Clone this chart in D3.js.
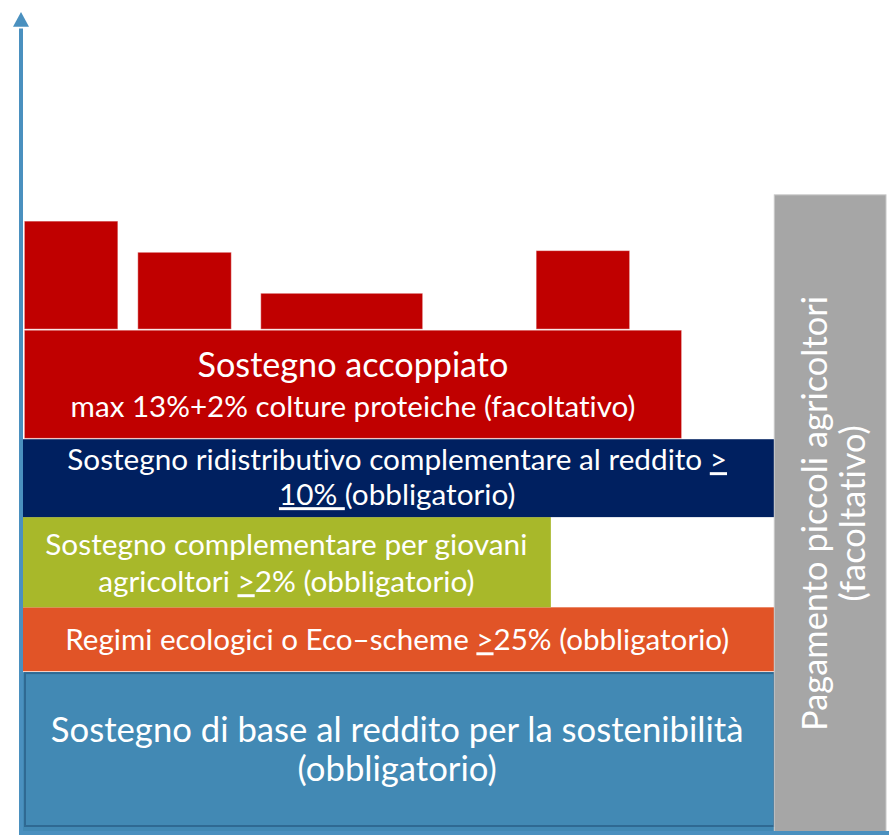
<!DOCTYPE html>
<html>
<head>
<meta charset="utf-8">
<script src="https://cdn.jsdelivr.net/npm/d3@7"></script>
<style>
  body { margin: 0; background: #fff; }
  svg { display: block; }
  text { font-family: Lato, "Open Sans", sans-serif; fill: #fff; white-space: pre;
         font-variant-ligatures: none; font-feature-settings: "liga" 0, "clig" 0; }
</style>
</head>
<body>
<svg id="chart" width="889" height="835"></svg>
<script>
// Scheme of the CAP direct payments, bottom layer first.
// x = share of the national envelope (0-100), y = stacking level (0-100)
var layerNames = ['base', 'eco', 'giovani', 'ridistributivo', 'accoppiato'];
var layerX0 = [0, 0, 0.2, 0, 0.5];
var layerX1 = [87.1, 87.1, 61.3, 87.1, 76.4];
var layerY0 = [0, 19.6, 27.4, 38.4, 48.0];
var layerY1 = [19.5, 27.4, 38.4, 47.9, 61.2];
// text between _ _ is underlined
var layerLabels = [
    ['Sostegno di base al reddito per la sostenibilità', '(obbligatorio)'],
    ['Regimi ecologici o Eco–scheme _>_25% (obbligatorio)'],
    ['Sostegno complementare per giovani', 'agricoltori _>_2% (obbligatorio)'],
    ['Sostegno ridistributivo complementare al reddito _>_', '_10% _(obbligatorio)'],
    ['Sostegno accoppiato', 'max 13%+2% colture proteiche (facoltativo)']
];

// coupled support sectors sitting on top of the red layer
var coupledX0 = [0.5, 13.6, 27.8, 59.6];
var coupledX1 = [11.3, 24.4, 46.5, 70.4];
var coupledTop = [74.5, 70.7, 65.7, 70.9];

// small farmers payment (vertical bar on the right)
var smallX0 = 87.1, smallX1 = 100, smallTop = 77.7;
var smallLabels = ['Pagamento piccoli agricoltori', '(facoltativo)'];

var svg = d3.select('#chart'),
    W = +svg.attr('width'),
    H = +svg.attr('height');

var x = d3.scaleLinear().domain([0, 100]).range([20, 886]),
    y = d3.scaleLinear().domain([0, 100]).range([832, 12]);

var color = d3.scaleOrdinal()
    .domain(layerNames.concat(['piccoli']))
    .range(['#4289b4', '#e15427', '#a8b82a', '#002060', '#c00000', '#a6a6a6']);

// text styling per layer: target line widths (null = same size as previous line),
// line height and baseline shift from the box centre
var textStyle = {
    base:           { fit: [693, null], lh: 39, dy: 9 },
    eco:            { fit: [664], lh: 0, dy: 11 },
    giovani:        { fit: [482, null], lh: 37, dy: 11.5 },
    ridistributivo: { fit: [660, null], lh: 35, dy: 9.5 },
    accoppiato:     { fit: [311, 565], lh: 40.5, dy: 12.5 },
    piccoli:        { fit: [435, null], lh: 38, dy: 16 }
};

var layers = layerNames.map(function (n, i) {
    return { name: n, x0: layerX0[i], x1: layerX1[i], y0: layerY0[i], y1: layerY1[i], lines: layerLabels[i] };
});
var coupled = coupledX0.map(function (v, i) {
    return { x0: v, x1: coupledX1[i], top: coupledTop[i] };
});

// coupled sector blocks
svg.append('g').selectAll('rect')
    .data(coupled)
    .join('rect')
    .attr('x', d => x(d.x0))
    .attr('y', d => y(d.top))
    .attr('width', d => x(d.x1) - x(d.x0))
    .attr('height', d => y(layerY1[4]) - y(d.top) - 1)
    .attr('fill', color('accoppiato'))
    .attr('stroke', 'rgba(255,255,255,0.45)')
    .attr('stroke-width', 1);

// stacked layers
svg.append('g').selectAll('rect')
    .data(layers)
    .join('rect')
    .attr('x', d => x(d.x0))
    .attr('y', d => y(d.y1))
    .attr('width', d => x(d.x1) - x(d.x0))
    .attr('height', d => y(d.y0) - y(d.y1))
    .attr('fill', d => color(d.name))
    .attr('stroke', d => d.name == 'accoppiato' ? 'rgba(255,255,255,0.45)' : 'none')
    .attr('stroke-width', 1);

// darker frame inside the base layer
svg.append('rect')
    .attr('x', x(layerX0[0]) + 5)
    .attr('y', y(layerY1[0]) + 1)
    .attr('width', x(layerX1[0]) - x(layerX0[0]) - 5)
    .attr('height', y(layerY0[0]) - y(layerY1[0]) - 7)
    .attr('fill', 'none')
    .attr('stroke', '#2f6992')
    .attr('stroke-width', 2);

// small farmers bar
svg.append('rect')
    .attr('x', x(smallX0))
    .attr('y', y(smallTop))
    .attr('width', x(smallX1) - x(smallX0))
    .attr('height', y(0) - y(smallTop))
    .attr('fill', color('piccoli'))
    .attr('stroke', '#c8c8c8')
    .attr('stroke-width', 1);

function writeLine(textEl, str) {
    str.split('_').forEach(function (part, k) {
        if (!part.length) return;
        var t = textEl.append('tspan').text(part);
        if (k % 2 == 1) t.style('text-decoration', 'underline');
    });
}

function fitLines(texts, fit) {
    var size = 30;
    texts.forEach(function (t, i) {
        t.attr('font-size', 30);
        if (fit[i]) {
            var w = t.node().getComputedTextLength();
            size = 30 * fit[i] / w;
        }
        t.attr('font-size', size.toFixed(2));
    });
}

function drawLabel(g, lines, st) {
    var n = lines.length;
    var texts = lines.map(function (str, i) {
        var t = g.append('text')
            .attr('text-anchor', 'middle')
            .attr('y', st.dy + (i - (n - 1) / 2) * st.lh);
        writeLine(t, str);
        return t;
    });
    fitLines(texts, st.fit);
}

layers.forEach(function (d) {
    var g = svg.append('g')
        .attr('transform', 'translate(' + ((x(d.x0) + x(d.x1)) / 2) + ',' + ((y(d.y0) + y(d.y1)) / 2) + ')');
    drawLabel(g, d.lines, textStyle[d.name]);
});

var gs = svg.append('g')
    .attr('transform', 'translate(' + ((x(smallX0) + x(smallX1)) / 2 + textStyle.piccoli.dy) + ',' +
        ((y(0) + y(smallTop)) / 2) + ') rotate(-90)');
drawLabel(gs, smallLabels, { fit: textStyle.piccoli.fit, lh: textStyle.piccoli.lh, dy: 0 });

// axes: vertical arrow and base line
var axisColor = '#4a90bf';
svg.append('line')
    .attr('x1', x(0) + 1).attr('x2', x(0) + 1)
    .attr('y1', y(0) + 2).attr('y2', y(98))
    .attr('stroke', axisColor).attr('stroke-width', 4);
svg.append('path')
    .attr('d', d3.line()([[x(0) + 1 - 8, y(98.2)], [x(0) + 1 + 8, y(98.2)], [x(0) + 1, y(100)]]) + 'Z')
    .attr('fill', axisColor);
svg.append('line')
    .attr('x1', x(0) - 1).attr('x2', W)
    .attr('y1', y(0) + 1).attr('y2', y(0) + 1)
    .attr('stroke', axisColor).attr('stroke-width', 4);
</script>
</body>
</html>
